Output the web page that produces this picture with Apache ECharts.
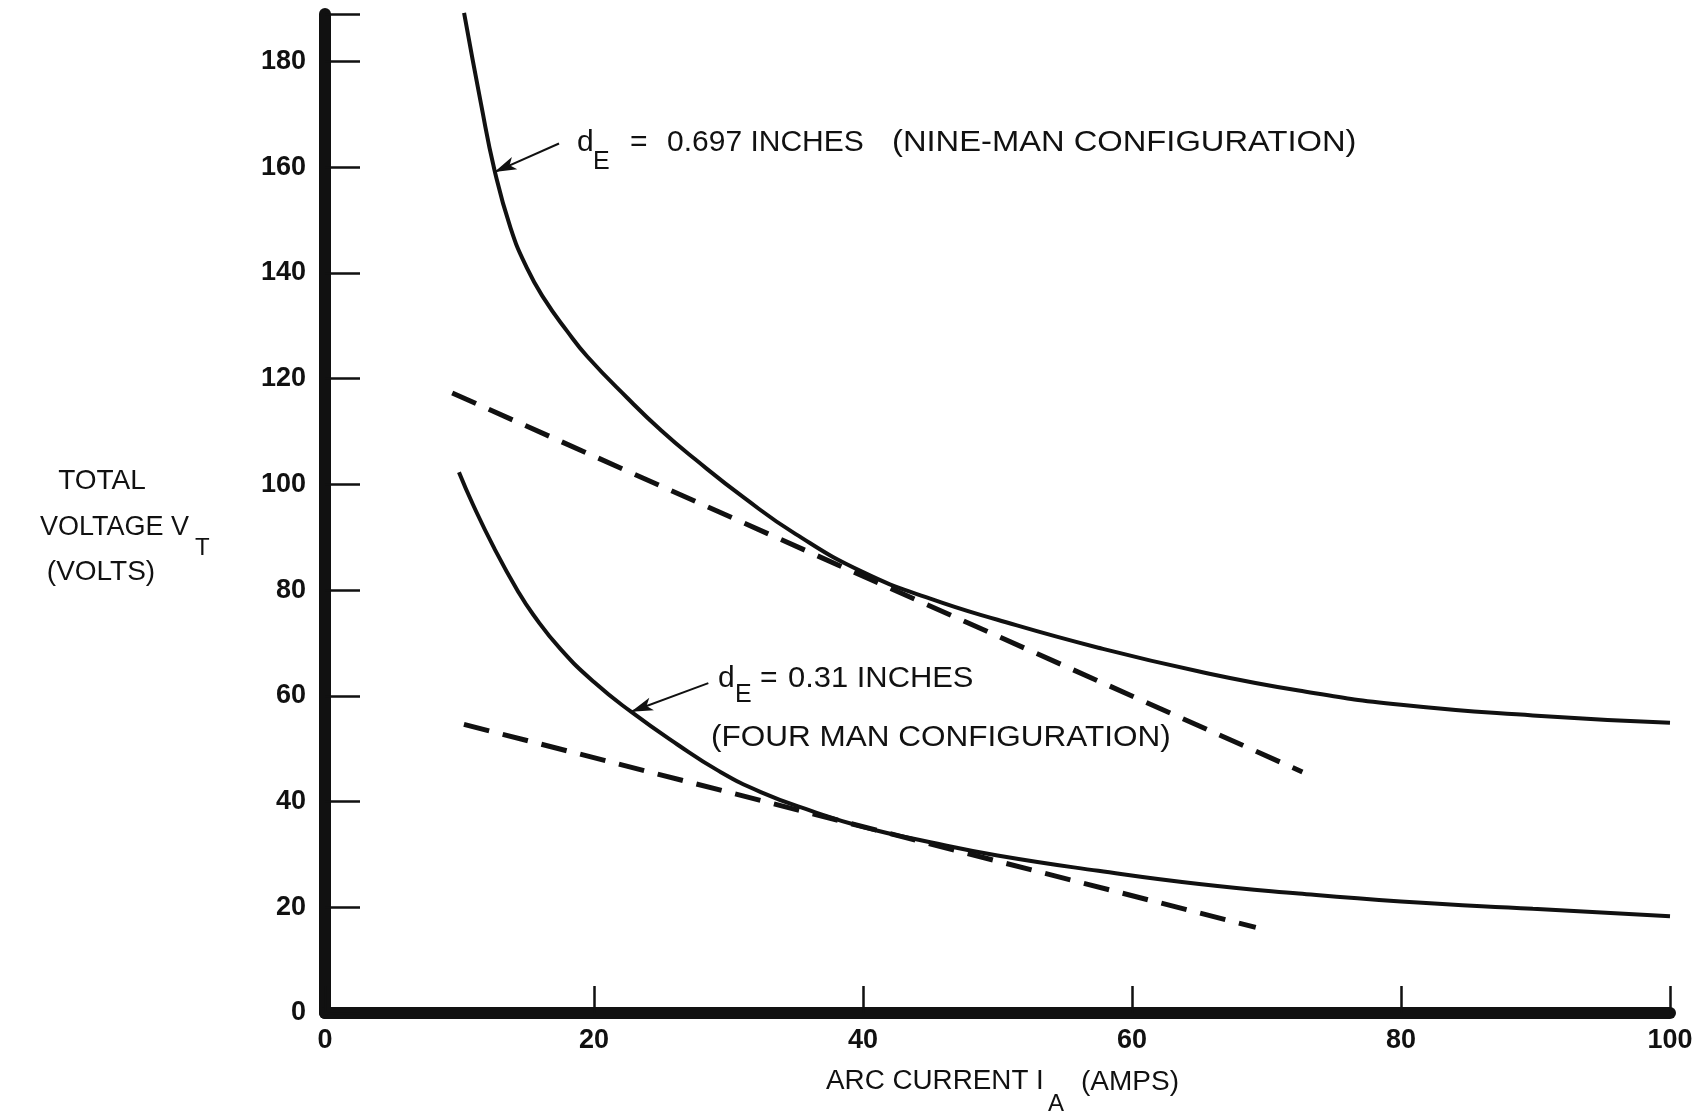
<!DOCTYPE html>
<html>
<head>
<meta charset="utf-8">
<script src="https://cdn.jsdelivr.net/npm/echarts@6/dist/echarts.min.js"></script>
<style>
  html, body { margin: 0; padding: 0; background: #fff; }
  #chart { width: 1700px; height: 1111px; }
</style>
</head>
<body>
<div id="chart"></div>
<script>
// arc current (amps) vs total voltage (volts)
const nineManCurve = [
  [10.34, 189.2], [11.6, 172], [12.6, 159.5], [13.8, 148.5], [15, 141],
  [16.3, 135.1], [18, 129], [19.5, 124.2], [22.5, 116.3], [25, 110.2],
  [27.5, 104.8], [31.2, 97.4], [35, 90.6], [40, 83.4], [45, 78.4],
  [50, 74.4], [57.5, 69.1], [65, 64.6], [72.4, 61], [80, 58.3],
  [89.8, 56.3], [100, 54.9]
];
const fourManCurve = [
  [9.96, 102.3], [11, 96.2], [12.57, 88], [14.3, 80], [15.5, 75.3],
  [17.5, 68.9], [20, 62.6], [22.75, 57.0], [26.2, 50.8], [29.2, 45.9],
  [32.4, 41.8], [36.2, 38.2], [40, 35.2], [45, 32.3], [50, 29.8],
  [57.5, 26.9], [65, 24.4], [72.4, 22.6], [80, 21.1], [89.8, 19.7],
  [100, 18.3]
];
const nineManTangent = [[9.46, 117.3], [72.67, 45.6]];
const fourManTangent = [[10.33, 54.6], [69.2, 16.2]];
// arrows: [tail, head]
const nineManArrow = [[17.4, 164.5], [12.6, 159.1]];
const fourManArrow = [[28.5, 62.4], [22.75, 57.0]];

const xTicks = { min: 0, max: 100, step: 20 };
const yTicks = { min: 0, max: 189, step: 20 };

const ink = "#111";
const font = "Liberation Sans";

// plain text piece, left edge at x, vertical middle at y
function txt(x, y, text, size, opts) {
  opts = opts || {};
  return {
    type: "text",
    x: x,
    y: y,
    scaleX: opts.sx || 1,
    style: {
      text: text,
      font: `${size}px "${font}"`,
      fill: ink,
      align: opts.align || "left",
      verticalAlign: "middle",
      textAlign: opts.align || "left",
      textVerticalAlign: "middle",
    },
  };
}

function curve(data, arrow) {
  return {
    type: "line", data: data, smooth: 0.5, symbol: "none",
    lineStyle: { color: ink, width: 4 },
    markLine: {
      silent: true, symbol: ["none", "arrow"], symbolSize: [10, 22], label: { show: false },
      lineStyle: { color: ink, width: 2, type: "solid" },
      data: [[{ coord: arrow[0] }, { coord: arrow[1] }]],
    },
  };
}

function tangent(data) {
  return {
    type: "line", data: data, symbol: "none",
    lineStyle: { color: ink, width: 5, type: [26, 14] },
  };
}

let myChart = echarts.init(document.getElementById("chart"));
myChart.setOption({
  animation: false,
  backgroundColor: "#fff",
  grid: { left: 325, right: 30, top: 14, bottom: 98 },
  xAxis: {
    type: "value",
    min: xTicks.min,
    max: xTicks.max,
    interval: xTicks.step,
    axisLine: { lineStyle: { color: ink, width: 12 } },
    axisTick: { inside: true, length: 27, lineStyle: { color: ink, width: 2.5 } },
    axisLabel: { color: ink, fontFamily: font, fontSize: 27, fontWeight: "bold", margin: 14 },
    splitLine: { show: false },
  },
  yAxis: {
    type: "value",
    min: yTicks.min,
    max: yTicks.max,
    interval: yTicks.step,
    axisLine: { show: true, lineStyle: { color: ink, width: 12 } },
    axisTick: { show: true, inside: true, length: 35, lineStyle: { color: ink, width: 2.5 } },
    axisLabel: {
      color: ink, fontFamily: font, fontSize: 27, fontWeight: "bold", margin: 19,
      formatter: (v) => (v % 20 === 0 ? String(v) : ""),
    },
    splitLine: { show: false },
  },
  series: [
    curve(nineManCurve, nineManArrow),
    curve(fourManCurve, fourManArrow),
    tangent(nineManTangent),
    tangent(fourManTangent),
  ],
  graphic: [
    // y axis name
    txt(102, 481, "TOTAL", 28, { align: "center" }),
    txt(40, 528, "VOLTAGE V", 27),
    txt(195, 548, "T", 24),
    txt(101, 572, "(VOLTS)", 28, { align: "center" }),
    // x axis name
    txt(826, 1082, "ARC CURRENT I", 27, { sx: 1.03 }),
    txt(1048, 1104, "A", 24),
    txt(1081, 1082, "(AMPS)", 28),
    // nine-man label
    txt(577, 143, "d", 30),
    txt(593, 162, "E", 25),
    txt(630, 143, "=", 30),
    txt(667, 143, "0.697 INCHES", 30),
    txt(892, 143, "(NINE-MAN CONFIGURATION)", 30, { sx: 1.09 }),
    // four-man label
    txt(718, 679, "d", 30),
    txt(735, 695, "E", 25),
    txt(760, 679, "=", 30),
    txt(788, 679, "0.31 INCHES", 30, { sx: 1.03 }),
    txt(711, 738, "(FOUR MAN CONFIGURATION)", 30, { sx: 1.05 }),
  ],
});
</script>
</body>
</html>
